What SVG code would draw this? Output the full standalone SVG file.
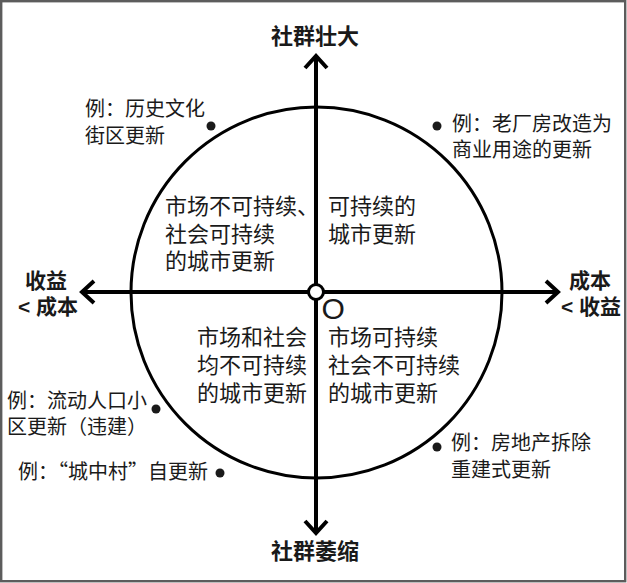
<svg xmlns="http://www.w3.org/2000/svg" width="627" height="583" viewBox="0 0 627 583" lang="zh-CN" xml:lang="zh-CN">
<style>
text{font-family:"Liberation Sans","Noto Sans CJK SC",sans-serif;fill:#1a1a1a}
.ax{font-size:22px;font-weight:700;text-anchor:middle}
.sd{font-size:21px;font-weight:700;text-anchor:middle}
.q{font-size:22px}
.ex{font-size:20px}
.cjk{font-family:"Noto Sans CJK SC",sans-serif}
.dot{fill:#1a1a1a}
.axis{stroke:#000;stroke-width:4;fill:none}
</style>
<defs>
<marker id="chev" markerUnits="userSpaceOnUse" viewBox="-16 -14 20 28" refX="0" refY="0" markerWidth="20" markerHeight="28" orient="auto-start-reverse">
<path d="M-12,-11 L0,0 L-12,11" fill="none" stroke="#000" stroke-width="4"/>
</marker>
</defs>
<rect x="1.2" y="1.2" width="624" height="580" fill="#fff" stroke="#5c5c5c" stroke-width="2.4"/>
<g id="circle-node">
<circle cx="316.5" cy="292.5" r="185.5" fill="none" stroke="#000" stroke-width="3"/>
</g>
<g id="connectors">
<line class="axis" x1="316" y1="533" x2="316" y2="56" marker-start="url(#chev)" marker-end="url(#chev)"/>
<line class="axis" x1="82" y1="292" x2="558" y2="292" marker-start="url(#chev)" marker-end="url(#chev)"/>
</g>
<g id="origin">
<circle cx="316" cy="292" r="7.5" fill="#fff" stroke="#000" stroke-width="3"/>
<text x="321.5" y="319" style="font-family:'Liberation Sans',sans-serif;font-size:30px">O</text>
</g>
<g id="axis-top"><text class="ax" x="315" y="43.5">社群壮大</text></g>
<g id="axis-bottom"><text class="ax" x="315" y="559">社群萎缩</text></g>
<g id="axis-left">
<text class="sd"><tspan x="46" y="288">收益</tspan><tspan x="48" y="314">&lt; 成本</tspan></text>
</g>
<g id="axis-right">
<text class="sd"><tspan x="590" y="288">成本</tspan><tspan x="591" y="314">&lt; 收益</tspan></text>
</g>
<g id="quadrant-ul">
<text class="q"><tspan x="165" y="213.5">市场不可持续、</tspan><tspan x="165" y="241.5">社会可持续</tspan><tspan x="165" y="269">的城市更新</tspan></text>
</g>
<g id="quadrant-ur">
<text class="q"><tspan x="328" y="213.5">可持续的</tspan><tspan x="328" y="241.5">城市更新</tspan></text>
</g>
<g id="quadrant-ll">
<text class="q"><tspan x="197" y="345">市场和社会</tspan><tspan x="197" y="373">均不可持续</tspan><tspan x="197" y="401">的城市更新</tspan></text>
</g>
<g id="quadrant-lr">
<text class="q"><tspan x="328" y="345">市场可持续</tspan><tspan x="328" y="373">社会不可持续</tspan><tspan x="328" y="401">的城市更新</tspan></text>
</g>
<g id="example-1">
<circle class="dot" cx="211" cy="126" r="4.5"/>
<text class="ex"><tspan x="85" y="115.5">例：历史文化</tspan><tspan x="85" y="142.5">街区更新</tspan></text>
</g>
<g id="example-2">
<circle class="dot" cx="437" cy="126" r="4.5"/>
<text class="ex"><tspan x="452" y="130.5">例：老厂房改造为</tspan><tspan x="452" y="156.5">商业用途的更新</tspan></text>
</g>
<g id="example-3">
<circle class="dot" cx="156" cy="409" r="4.5"/>
<text class="ex"><tspan x="7" y="407.5">例：流动人口小</tspan><tspan x="7" y="433.5">区更新（违建）</tspan></text>
</g>
<g id="example-4">
<circle class="dot" cx="220" cy="473" r="4.5"/>
<text class="ex" x="18" y="478.5">例：<tspan class="cjk">“</tspan>城中村<tspan class="cjk">”</tspan>自更新</text>
</g>
<g id="example-5">
<circle class="dot" cx="437" cy="447" r="4.5"/>
<text class="ex"><tspan x="451" y="449.5">例：房地产拆除</tspan><tspan x="451" y="476.5">重建式更新</tspan></text>
</g>
</svg>
